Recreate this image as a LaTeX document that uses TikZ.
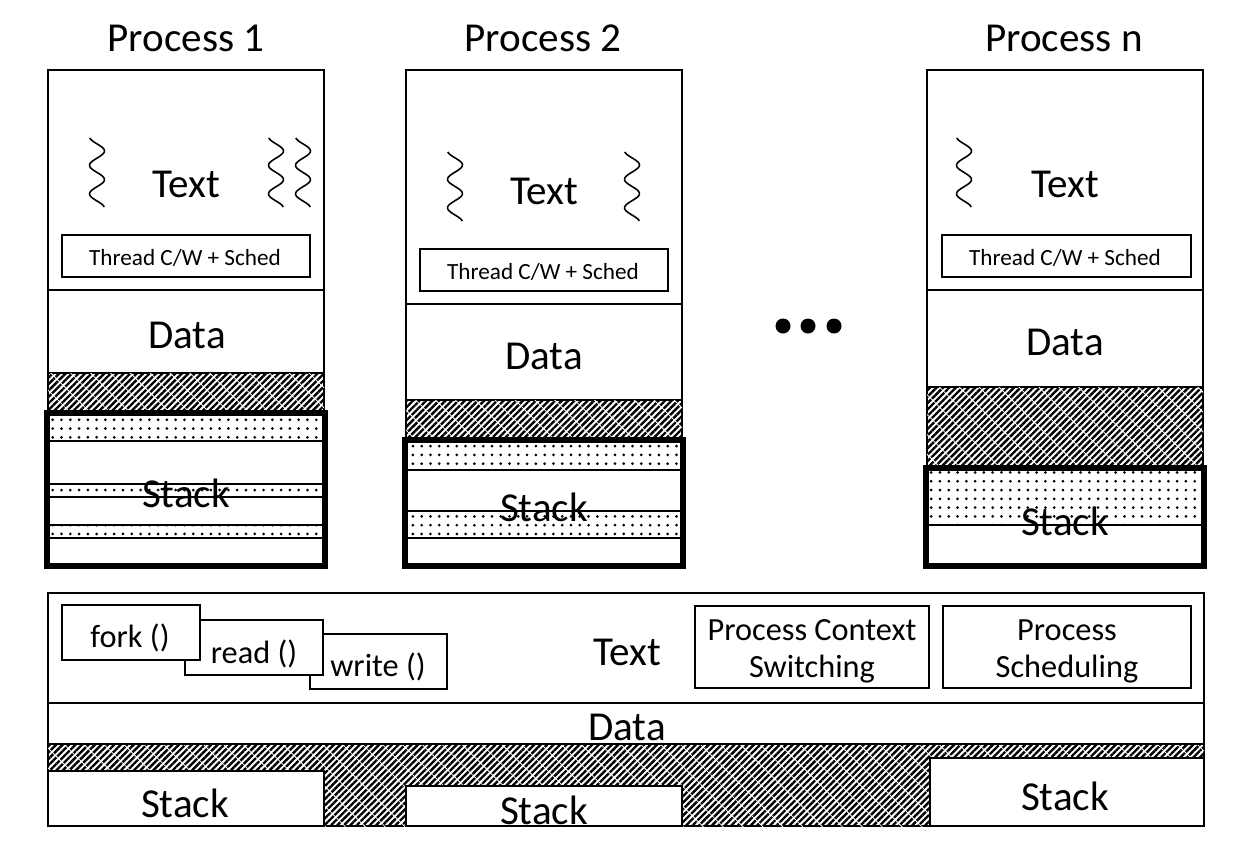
\documentclass[tikz,border=0pt]{standalone}
\usepackage{fontspec}
\setmainfont{Carlito}
\usetikzlibrary{patterns.meta}
\tikzset{
    box/.style={draw, line width=0.8pt},
    whitebox/.style={box, fill=white},
    hatched/.style={box, pattern={Lines[angle=45,distance=2.6pt,line width=1.35pt]},
        postaction={pattern={Lines[angle=-45,distance=8pt,line width=0.45pt]}, pattern color=white}},
    dotted area/.style={box, pattern={Dots[radius=0.85pt,distance=5pt]}},
    thickbox/.style={draw, line width=3pt},
    bigtext/.style={font=\fontsize{23.4}{25}\selectfont},
    smalltext/.style={font=\fontsize{13.2}{15}\selectfont},
    midtext/.style={font=\fontsize{18.4}{21}\selectfont, align=center},
    squiggle/.style={line width=0.9pt}
}
\begin{document}
\begin{tikzpicture}[x=0.02cm, y=-0.02cm]
    \useasboundingbox (0, 0) rectangle (1239, 859);
    % Titles
    \node[bigtext] (title1) at (186, 38) {Process 1};
    \node[bigtext] (title2) at (543, 38) {Process 2};
    \node[bigtext] (titlen) at (1064, 38) {Process n};
    % Process 1
    \draw[box] (48, 70) rectangle (324, 290);
    \draw[box] (48, 290) rectangle (324, 373);
    \draw[hatched] (48, 373) rectangle (324, 413);
    \draw[dotted area] (48, 413) rectangle (324, 441);
    \draw[dotted area] (48, 484) rectangle (324, 497);
    \draw[dotted area] (48, 525) rectangle (324, 538);
    \draw[thickbox] (47, 413) rectangle (325, 566);
    \draw[box] (62, 235) rectangle (310, 277);
    \node[bigtext] (text1) at (186, 184) {Text};
    \node[smalltext] (sched1) at (185, 258) {Thread C/W + Sched};
    \node[bigtext] (data1) at (187, 335) {Data};
    \node[bigtext] (stack1) at (186, 493) {Stack};
    % Process 2
    \draw[box] (406, 70) rectangle (682, 304);
    \draw[box] (406, 304) rectangle (682, 400);
    \draw[hatched] (406, 400) rectangle (682, 440);
    \draw[dotted area] (406, 440) rectangle (682, 470);
    \draw[dotted area] (406, 511) rectangle (682, 538);
    \draw[thickbox] (405, 440) rectangle (683, 566);
    \draw[box] (420, 249) rectangle (668, 291);
    \node[bigtext] (text2) at (544, 191) {Text};
    \node[smalltext] (sched2) at (543, 272) {Thread C/W + Sched};
    \node[bigtext] (data2) at (544, 356) {Data};
    \node[bigtext] (stack2) at (544, 507) {Stack};
    % Process n
    \draw[box] (927, 70) rectangle (1203, 290);
    \draw[box] (927, 290) rectangle (1203, 387);
    \draw[hatched] (927, 387) rectangle (1203, 468);
    \draw[dotted area] (927, 468) rectangle (1203, 525);
    \draw[thickbox] (926, 468) rectangle (1204, 566);
    \draw[box] (942, 235) rectangle (1191, 277);
    \node[bigtext] (textn) at (1065, 184) {Text};
    \node[smalltext] (schedn) at (1065, 258) {Thread C/W + Sched};
    \node[bigtext] (datan) at (1065, 342) {Data};
    \node[bigtext] (stackn) at (1065, 521) {Stack};
    % Threads
    \foreach \tx/\ty in {97/138, 276/138, 303/138, 455/152, 632/152, 964/138} {
        \draw[squiggle, shift={(\tx, \ty)}] plot[domain=0:69, samples=50, smooth]
            ({7.5*cos(12.6*(\x-13))}, \x);
    }
    % Dots
    \foreach \dotx in {783, 808, 834} {
        \fill (\dotx, 326) circle (7.5);
    }
    % Kernel
    \draw[hatched] (48, 744) rectangle (1204, 826);
    \draw[box] (48, 593) rectangle (1204, 703);
    \draw[box] (48, 703) rectangle (1204, 744);
    \draw[whitebox] (48, 771) rectangle (324, 826);
    \draw[whitebox] (406, 786) rectangle (682, 826);
    \draw[whitebox] (930, 758) rectangle (1204, 826);
    % Calls
    \draw[whitebox] (310, 634) rectangle (447, 689);
    \draw[whitebox] (185, 620) rectangle (323, 675);
    \draw[whitebox] (62, 605) rectangle (200, 660);
    \node[midtext] (fork) at (130, 638) {fork ()};
    \node[midtext] (read) at (254, 654) {read ()};
    \node[midtext] (write) at (378, 667) {write ()};
    % Kernel boxes
    \draw[box] (695, 606) rectangle (929, 688);
    \draw[box] (943, 606) rectangle (1191, 688);
    \node[midtext] (switching) at (812, 651) {Process Context\\Switching};
    \node[midtext] (scheduling) at (1067, 651) {Process\\Scheduling};
    % Labels
    \node[bigtext] (ktext) at (627, 652) {Text};
    \node[bigtext] (kdata) at (627, 727) {Data};
    \node[bigtext] (kstack1) at (185, 803) {Stack};
    \node[bigtext] (kstack2) at (544, 810) {Stack};
    \node[bigtext] (kstackn) at (1065, 796) {Stack};
\end{tikzpicture}
\end{document}
